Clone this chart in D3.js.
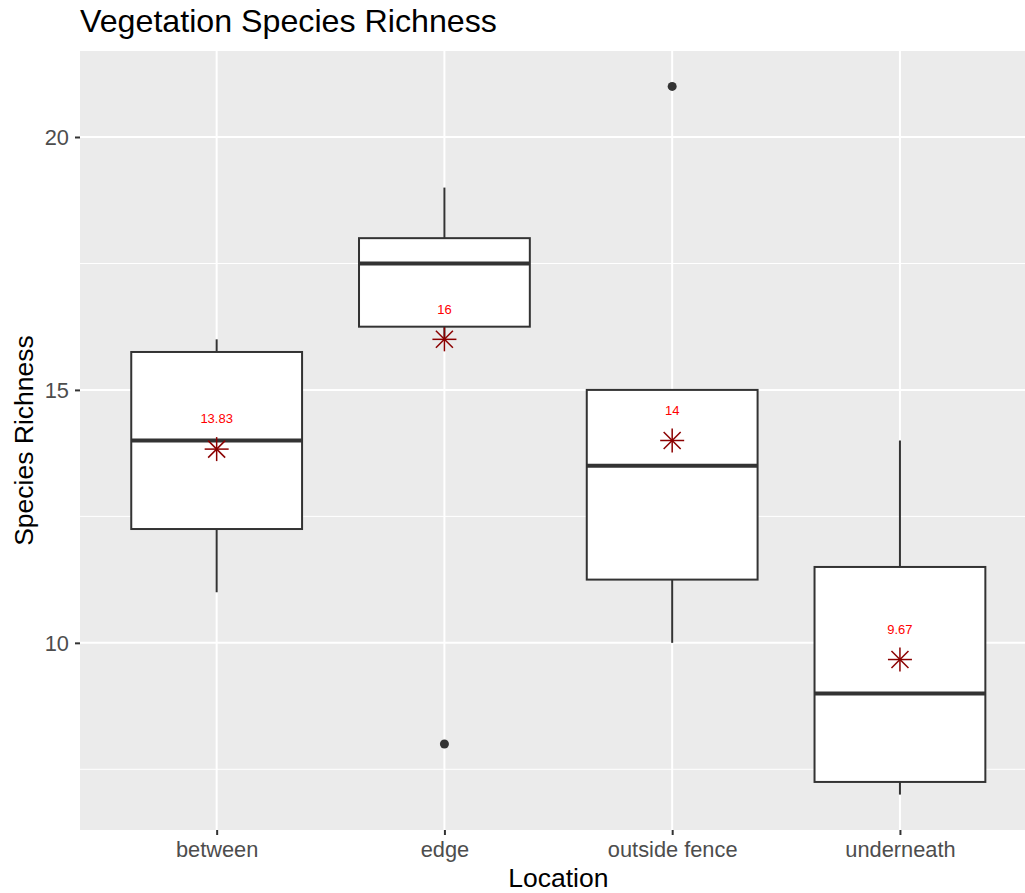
<!DOCTYPE html>
<html>
<head>
<meta charset="utf-8">
<script src="https://cdn.jsdelivr.net/npm/d3@7"></script>
<style>
 body { margin: 0; background: #fff; }
 svg { display: block; font-family: "Liberation Sans", Arial, sans-serif; }
</style>
</head>
<body>
<div id="chart"></div>
<script>
var categories = ["between", "edge", "outside fence", "underneath"];
var lowerWhisker = [11, 16, 10, 7];
var q1 = [12.25, 16.25, 11.25, 7.25];
var medians = [14, 17.5, 13.5, 9];
var q3 = [15.75, 18, 15, 11.5];
var upperWhisker = [16, 19, 15, 14];
var outliers = [[], [8], [21], []];
var means = [13.83, 16, 14, 9.67];
var meanLabels = ["13.83", "16", "14", "9.67"];
var yTicks = [10, 15, 20];
var yMinor = [7.5, 12.5, 17.5];

var width = 1025, height = 893;
var panelL = 80, panelT = 51, panelB = 830, panelR = 1036.6;

var svg = d3.select("#chart").append("svg")
 .attr("width", width)
 .attr("height", height);

var x = d3.scalePoint()
 .domain(categories)
 .range([panelL, panelR])
 .padding(0.6);

var y = d3.scaleLinear()
 .domain([6.3, 21.7])
 .range([panelB, panelT]);

var boxW = x.step() * 0.75;

// panel background
svg.append("rect")
 .attr("x", panelL).attr("y", panelT)
 .attr("width", panelR - panelL).attr("height", panelB - panelT)
 .attr("fill", "#ebebeb");

// grid
svg.selectAll(".minor")
 .data(yMinor)
 .enter().append("line")
 .attr("x1", panelL).attr("x2", panelR)
 .attr("y1", function(d) { return y(d); })
 .attr("y2", function(d) { return y(d); })
 .attr("stroke", "#fff").attr("stroke-width", 1);

svg.selectAll(".major")
 .data(yTicks)
 .enter().append("line")
 .attr("x1", panelL).attr("x2", panelR)
 .attr("y1", function(d) { return y(d); })
 .attr("y2", function(d) { return y(d); })
 .attr("stroke", "#fff").attr("stroke-width", 2);

svg.selectAll(".xgrid")
 .data(categories)
 .enter().append("line")
 .attr("x1", function(d) { return x(d); })
 .attr("x2", function(d) { return x(d); })
 .attr("y1", panelT).attr("y2", panelB)
 .attr("stroke", "#fff").attr("stroke-width", 2);

// axes
var yAxis = svg.append("g")
 .attr("transform", "translate(" + panelL + ",0)")
 .call(d3.axisLeft(y).tickValues(yTicks).tickSize(5).tickPadding(6));
var xAxis = svg.append("g")
 .attr("transform", "translate(0," + panelB + ")")
 .call(d3.axisBottom(x).tickSize(5).tickPadding(7));
[yAxis, xAxis].forEach(function(a) {
 a.select(".domain").remove();
 a.selectAll(".tick line").attr("stroke", "#333").attr("stroke-width", 2);
 a.selectAll(".tick text").attr("fill", "#4d4d4d")
  .style("font-size", "21.8px")
  .style("font-family", "Liberation Sans, Arial, sans-serif");
});
yAxis.selectAll(".tick text").attr("dy", "0.35em");

// boxes
var data = categories.map(function(c, i) {
 return { cat: c, lo: lowerWhisker[i], q1: q1[i], med: medians[i], q3: q3[i],
  hi: upperWhisker[i], out: outliers[i], mean: means[i], label: meanLabels[i] };
});

var g = svg.selectAll(".box")
 .data(data)
 .enter().append("g")
 .attr("class", "box");

g.append("line")
 .attr("x1", function(d) { return x(d.cat); })
 .attr("x2", function(d) { return x(d.cat); })
 .attr("y1", function(d) { return y(d.hi); })
 .attr("y2", function(d) { return y(d.q3); })
 .attr("stroke", "#333").attr("stroke-width", 2);

g.append("line")
 .attr("x1", function(d) { return x(d.cat); })
 .attr("x2", function(d) { return x(d.cat); })
 .attr("y1", function(d) { return y(d.q1); })
 .attr("y2", function(d) { return y(d.lo); })
 .attr("stroke", "#333").attr("stroke-width", 2);

g.append("rect")
 .attr("x", function(d) { return x(d.cat) - boxW / 2; })
 .attr("y", function(d) { return y(d.q3); })
 .attr("width", boxW)
 .attr("height", function(d) { return y(d.q1) - y(d.q3); })
 .attr("fill", "#fff")
 .attr("stroke", "#333").attr("stroke-width", 2);

g.append("line")
 .attr("x1", function(d) { return x(d.cat) - boxW / 2; })
 .attr("x2", function(d) { return x(d.cat) + boxW / 2; })
 .attr("y1", function(d) { return y(d.med); })
 .attr("y2", function(d) { return y(d.med); })
 .attr("stroke", "#333").attr("stroke-width", 4);

g.selectAll(".outlier")
 .data(function(d) { return d.out.map(function(v) { return { cat: d.cat, v: v }; }); })
 .enter().append("circle")
 .attr("cx", function(d) { return x(d.cat); })
 .attr("cy", function(d) { return y(d.v); })
 .attr("r", 4.5)
 .attr("fill", "#333");

// mean stars
var star = g.append("g")
 .attr("transform", function(d) { return "translate(" + x(d.cat) + "," + y(d.mean) + ")"; })
 .attr("stroke", "#8b0000").attr("stroke-width", 1.5);
var s = 12, k = 8.5;
star.append("line").attr("x1", -s).attr("x2", s).attr("y1", 0).attr("y2", 0);
star.append("line").attr("x1", 0).attr("x2", 0).attr("y1", -s).attr("y2", s);
star.append("line").attr("x1", -k).attr("x2", k).attr("y1", -k).attr("y2", k);
star.append("line").attr("x1", -k).attr("x2", k).attr("y1", k).attr("y2", -k);

g.append("text")
 .attr("x", function(d) { return x(d.cat); })
 .attr("y", function(d) { return y(d.mean + 0.6); })
 .attr("dy", "0.35em")
 .attr("text-anchor", "middle")
 .attr("fill", "#ff0000")
 .style("font-size", "13px")
 .text(function(d) { return d.label; });

// titles
svg.append("text")
 .attr("x", panelL).attr("y", 32)
 .style("font-size", "32.2px")
 .attr("fill", "#000")
 .text("Vegetation Species Richness");

svg.append("text")
 .attr("x", (panelL + panelR) / 2).attr("y", 887)
 .attr("text-anchor", "middle")
 .style("font-size", "26.5px")
 .attr("fill", "#000")
 .text("Location");

svg.append("text")
 .attr("transform", "translate(33," + ((panelT + panelB) / 2) + ") rotate(-90)")
 .attr("text-anchor", "middle")
 .style("font-size", "26.5px")
 .attr("fill", "#000")
 .text("Species Richness");
</script>
</body>
</html>
